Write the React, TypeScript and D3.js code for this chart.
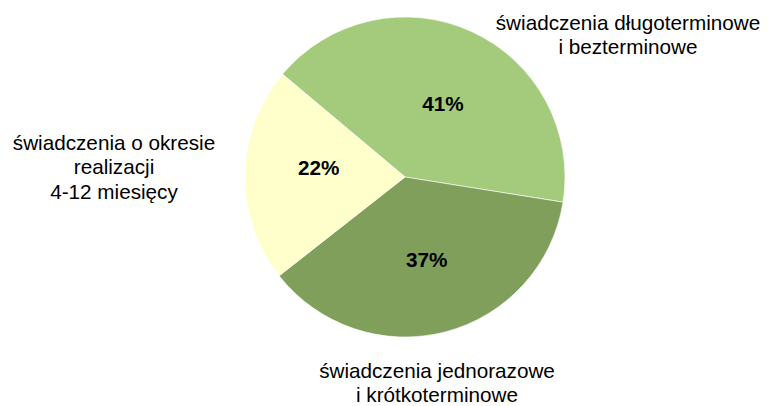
import React from 'react'
import * as d3 from 'd3'

const width = 771
const height = 406

// slices, clockwise from the top-left edge
const categories = [
  'świadczenia długoterminowe|i bezterminowe',
  'świadczenia jednorazowe|i krótkoterminowe',
  'świadczenia o okresie|realizacji|4-12 miesięcy',
]
const values = [41.4, 36.9, 21.7]
const percentLabels = ['41%', '37%', '22%']
const colors = ['#a3cb7b', '#7f9f5b', '#ffffcc']

// where each category caption sits (centre of the text block, first baseline)
const captionPos: [number, number][] = [
  [628, 30],
  [437, 378],
  [114, 150],
]
// small best-fit nudges of the percent labels, like the original
const labelNudge: [number, number][] = [
  [2, 5],
  [0, -1],
  [0, -8],
]

const cx = 405
const cy = 177
const radius = 160
const startDeg = -50
const fontFamily = '"Liberation Sans", Arial, sans-serif'

export default function App() {
  const pie = d3
    .pie<number>()
    .sort(null)
    .value((d) => d)
    .startAngle((startDeg * Math.PI) / 180)
    .endAngle(((startDeg + 360) * Math.PI) / 180)
  const arcs = pie(values)

  const arc = d3.arc<d3.PieArcDatum<number>>().innerRadius(0).outerRadius(radius)
  const labelArc = d3
    .arc<d3.PieArcDatum<number>>()
    .innerRadius(radius * 0.54)
    .outerRadius(radius * 0.54)

  return (
    <svg
      width={width}
      height={height}
      style={{ position: 'absolute', left: 0, top: 0, background: 'white' }}
    >
      <g transform={`translate(${cx},${cy})`}>
        {arcs.map((a, i) => (
          <path key={i} d={arc(a) || ''} fill={colors[i]} stroke="#ffffff" strokeWidth={0.6} />
        ))}
        {arcs.map((a, i) => {
          const [x, y] = labelArc.centroid(a)
          return (
            <text
              key={'p' + i}
              x={x + labelNudge[i][0]}
              y={y + labelNudge[i][1]}
              dy="0.35em"
              textAnchor="middle"
              fontFamily={fontFamily}
              fontWeight="bold"
              fontSize={20.7}
              fill="#000"
            >
              {percentLabels[i]}
            </text>
          )
        })}
      </g>

      {categories.map((c, i) => (
        <text
          key={'c' + i}
          x={captionPos[i][0]}
          y={captionPos[i][1]}
          textAnchor="middle"
          fontFamily={fontFamily}
          fontSize={20.7}
          fill="#000"
        >
          {c.split('|').map((line, j) => (
            <tspan key={j} x={captionPos[i][0]} dy={j === 0 ? 0 : 24.3}>
              {line}
            </tspan>
          ))}
        </text>
      ))}
    </svg>
  )
}
